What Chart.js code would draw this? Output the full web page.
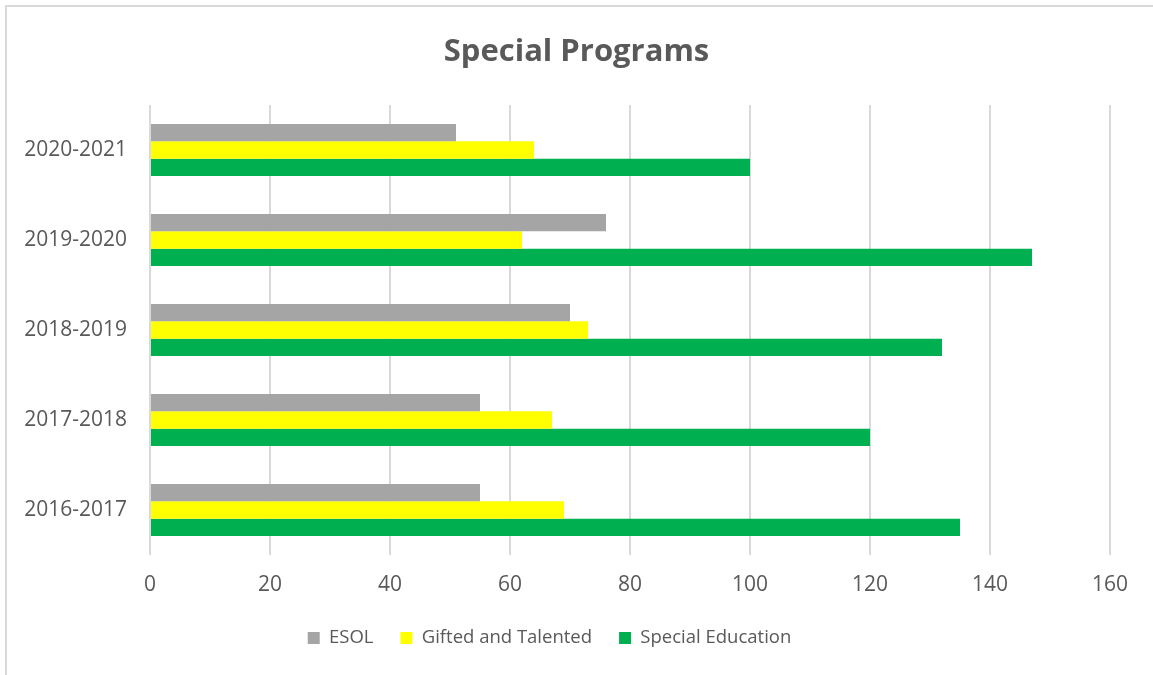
<!DOCTYPE html>
<html>
<head>
<meta charset="utf-8">
<script src="https://cdn.jsdelivr.net/npm/chart.js@4.4.1/dist/chart.umd.min.js"></script>
<style>
  html, body { margin: 0; padding: 0; background: #ffffff; }
  #wrap { position: relative; width: 1153px; height: 675px; overflow: hidden; }
  #frame { position: absolute; left: 5px; top: 5px; width: 1200px; height: 720px;
           border-left: 2px solid #d9d9d9; border-top: 2px solid #d9d9d9; box-sizing: border-box; }
  canvas { position: absolute; left: 0; top: 0; }
</style>
</head>
<body>
<div id="wrap">
  <div id="frame"></div>
  <canvas id="chartBase" width="1153" height="675"></canvas>
</div>
<script>
const categorias = ["2020-2021", "2019-2020", "2018-2019", "2017-2018", "2016-2017"];
const esol = [51, 76, 70, 55, 55];
const gifted = [64, 62, 73, 67, 69];
const specialEd = [100, 147, 132, 120, 135];
const ticksX = [0, 20, 40, 60, 80, 100, 120, 140, 160];

const gris = "#595959";
const fuente = "'Open Sans', 'Liberation Sans', sans-serif";

let chartBase = null;

// la leyenda del original queda un poco a la izquierda del centro
const moverLeyenda = {
  id: "moverLeyenda",
  afterLayout: function (chart) {
    if (!chart.legend) return;
    chart.legend.left -= 27;
    chart.legend.right -= 27;
  }
};

function pintarChart() {
  const ctx = document.getElementById("chartBase").getContext("2d");

  chartBase = new Chart(ctx, {
    type: "bar",
    data: {
      labels: categorias,
      datasets: [
        { label: "ESOL", data: esol, backgroundColor: "#a5a5a5" },
        { label: "Gifted and Talented", data: gifted, backgroundColor: "#ffff00" },
        { label: "Special Education", data: specialEd, backgroundColor: "#00b050" }
      ]
    },
    plugins: [moverLeyenda],
    options: {
      indexAxis: "y",
      responsive: false,
      animation: false,
      categoryPercentage: 0.578,
      barPercentage: 1,
      layout: { padding: { left: 0, right: 0, top: 0, bottom: 17.75 } },
      plugins: {
        title: {
          display: true,
          text: "Special Programs",
          color: gris,
          font: { family: fuente, size: 31, weight: "bold" },
          padding: { top: 33.4, bottom: 34.4 }
        },
        legend: {
          position: "bottom",
          labels: {
            color: gris,
            font: { family: fuente, size: 18.5 },
            boxWidth: 12,
            boxHeight: 12,
            padding: 27
          }
        },
        tooltip: { enabled: false }
      },
      scales: {
        x: {
          min: 0,
          max: 160,
          afterBuildTicks: function (scale) {
            scale.ticks = ticksX.map(function (v) { return { value: v }; });
          },
          afterFit: function (scale) {
            scale.height = 46.75;
            scale.paddingRight = 43;
          },
          grid: { color: "#d9d9d9", lineWidth: 2, drawTicks: false },
          border: { display: false },
          ticks: { color: gris, font: { family: fuente, size: 21 }, padding: 17.5 }
        },
        y: {
          afterFit: function (scale) { scale.width = 150; },
          grid: { display: false, drawTicks: false },
          border: { display: false },
          ticks: { color: gris, font: { family: fuente, size: 21 }, padding: 23 }
        }
      }
    }
  });
}

document.addEventListener("DOMContentLoaded", function () {
  pintarChart();
});
</script>
</body>
</html>
